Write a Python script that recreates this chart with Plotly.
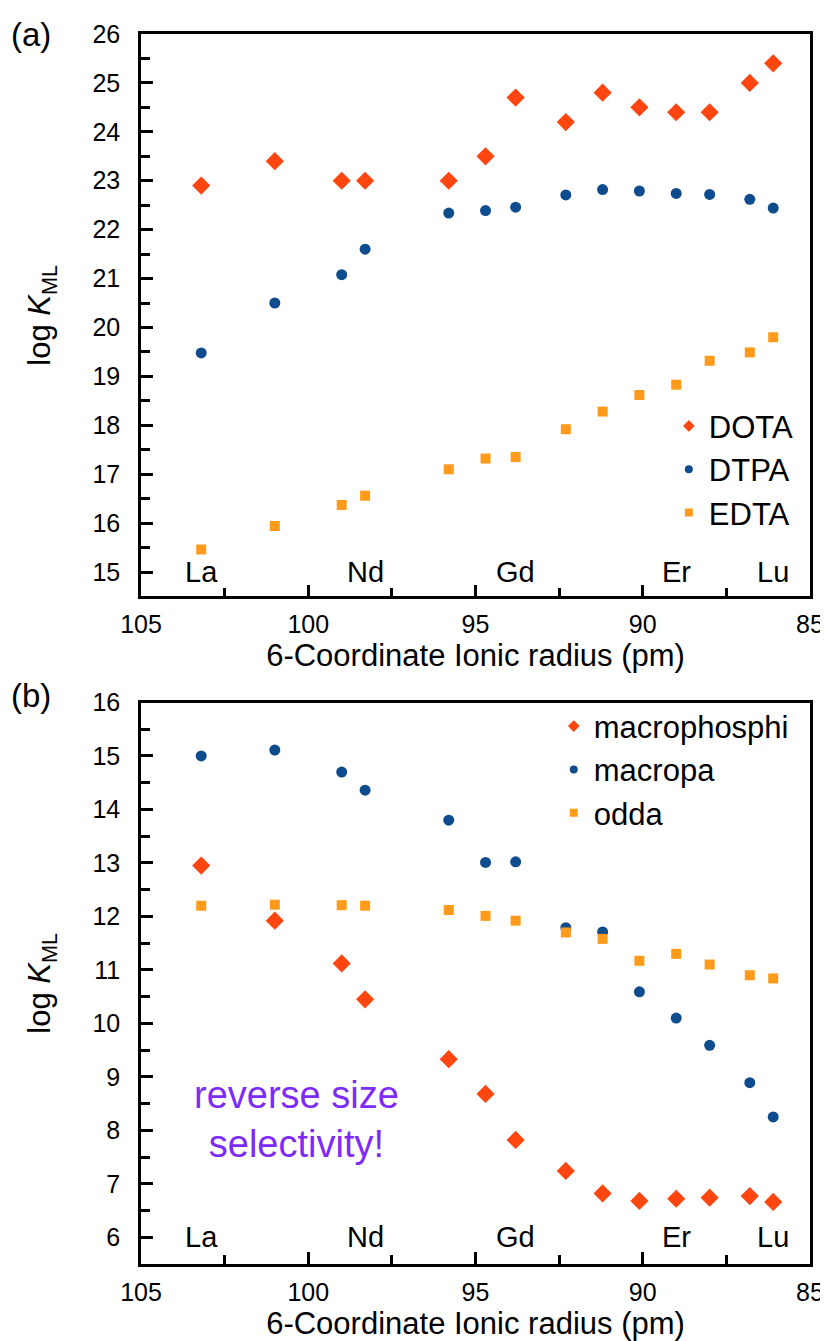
import plotly.graph_objects as go
from plotly.subplots import make_subplots

# lanthanides and 6-coordinate ionic radii (pm)
elements = ["La", "Ce", "Pr", "Nd", "Sm", "Eu", "Gd", "Tb", "Dy", "Ho", "Er", "Tm", "Yb", "Lu"]
radius = [103.2, 101.0, 99.0, 98.3, 95.8, 94.7, 93.8, 92.3, 91.2, 90.1, 89.0, 88.0, 86.8, 86.1]
labelled = ["La", "Nd", "Gd", "Er", "Lu"]

# panel (a)
dota = [22.9, 23.4, 23.0, 23.0, 23.0, 23.5, 24.7, 24.2, 24.8, 24.5, 24.4, 24.4, 25.0, 25.4]
dtpa = [19.48, 20.5, 21.08, 21.6, 22.34, 22.39, 22.46, 22.71, 22.82, 22.79, 22.74, 22.72, 22.62, 22.44]
edta = [15.46, 15.94, 16.37, 16.56, 17.1, 17.32, 17.35, 17.92, 18.28, 18.62, 18.83, 19.32, 19.49, 19.8]

# panel (b)
macrophosphi = [12.95, 11.92, 11.12, 10.45, 9.33, 8.68, 7.82, 7.24, 6.82, 6.68, 6.72, 6.74, 6.77, 6.66]
macropa = [15.0, 15.11, 14.7, 14.36, 13.8, 13.01, 13.02, 11.79, 11.71, 10.59, 10.1, 9.59, 8.89, 8.25]
odda = [12.2, 12.22, 12.21, 12.2, 12.12, 12.01, 11.92, 11.7, 11.58, 11.17, 11.3, 11.1, 10.9, 10.84]

RED = "#FF4510"
BLUE = "#0E4C8E"
ORANGE = "#FF9A1A"
PURPLE = "#7D2AFA"
FONT = "Liberation Sans, Arial, sans-serif"

fig = make_subplots(rows=2, cols=1)

panels = [
    (1, [("DOTA", dota, "diamond", RED, 14, 9), ("DTPA", dtpa, "circle", BLUE, 11, 8), ("EDTA", edta, "square", ORANGE, 10, 8)], "legend"),
    (2, [("macrophosphi", macrophosphi, "diamond", RED, 14, 9), ("macropa", macropa, "circle", BLUE, 11, 8), ("odda", odda, "square", ORANGE, 10, 8)], "legend2"),
]
for row, series, leg in panels:
    for i, (name, vals, sym, col, sz, lsz) in enumerate(series):
        fig.add_trace(go.Scatter(
            x=radius, y=vals, mode="markers", name=name, showlegend=False,
            marker=dict(symbol=sym, color=col, size=sz, line_width=0)),
            row=row, col=1)
        # legend-only entry with the smaller key marker
        fig.add_trace(go.Scatter(
            x=[None], y=[None], mode="markers", name=name,
            marker=dict(symbol=sym, color=col, size=lsz, line_width=0),
            legend=leg, legendgroup=f"{leg}{i}"),
            row=row, col=1)

axis_common = dict(
    showline=True, linecolor="black", linewidth=2.5, mirror=True,
    ticks="inside", ticklen=12, tickwidth=2.5, tickcolor="black",
    showgrid=False, zeroline=False,
    tickfont=dict(size=25, color="black"),
)

for row in (1, 2):
    fig.update_xaxes(
        range=[105, 85], tick0=85, dtick=5, ticklabelstandoff=4,
        minor=dict(ticks="inside", ticklen=9, tickwidth=2.5, dtick=2.5, tickcolor="black"),
        title=dict(text="6-Coordinate Ionic radius (pm)", font=dict(size=31, color="black"), standoff=5),
        row=row, col=1, **axis_common)
    fig.update_yaxes(
        dtick=1, ticklabelstandoff=13,
        minor=dict(ticks="inside", ticklen=9, tickwidth=2.5, dtick=0.5, tickcolor="black"),
        title=dict(text="log <i>K</i><sub>ML</sub>", font=dict(size=31, color="black"), standoff=33),
        row=row, col=1, **axis_common)

fig.update_yaxes(range=[14.5, 26], tick0=15, domain=[0.5427, 1.0], row=1, col=1)
fig.update_yaxes(range=[5.5, 16], tick0=6, domain=[0.0, 0.4565], row=2, col=1)

# element labels along the bottom of each panel
for xr, yr, ybase in (("x", "y", 15), ("x2", "y2", 6)):
    for el, r in zip(elements, radius):
        if el in labelled:
            fig.add_annotation(x=r, y=ybase, text=el, showarrow=False,
                               font=dict(size=29, color="black"), xref=xr, yref=yr)

fig.add_annotation(x=100.36, y=8.2, text="reverse size<br>selectivity!", showarrow=False,
                   font=dict(size=38, color=PURPLE), xref="x2", yref="y2")

fig.add_annotation(x=-0.197, y=0.9992, xref="paper", yref="paper", text="(a)", showarrow=False,
                   font=dict(size=33, color="black"), xanchor="left", yanchor="middle")
fig.add_annotation(x=-0.197, y=0.4622, xref="paper", yref="paper", text="(b)", showarrow=False,
                   font=dict(size=33, color="black"), xanchor="left", yanchor="middle")

legend_style = dict(font=dict(size=31, color="black"), bgcolor="rgba(0,0,0,0)",
                    tracegroupgap=0, xanchor="left", yanchor="top", itemsizing="trace")

fig.update_layout(
    width=828, height=1341,
    margin=dict(l=133, r=19, t=25, b=85),
    paper_bgcolor="white", plot_bgcolor="white",
    font=dict(family=FONT, color="black"),
    legend=dict(x=0.789, y=0.703, **legend_style),
    legend2=dict(x=0.617, y=0.459, **legend_style),
)

fig.write_html("out.html")
